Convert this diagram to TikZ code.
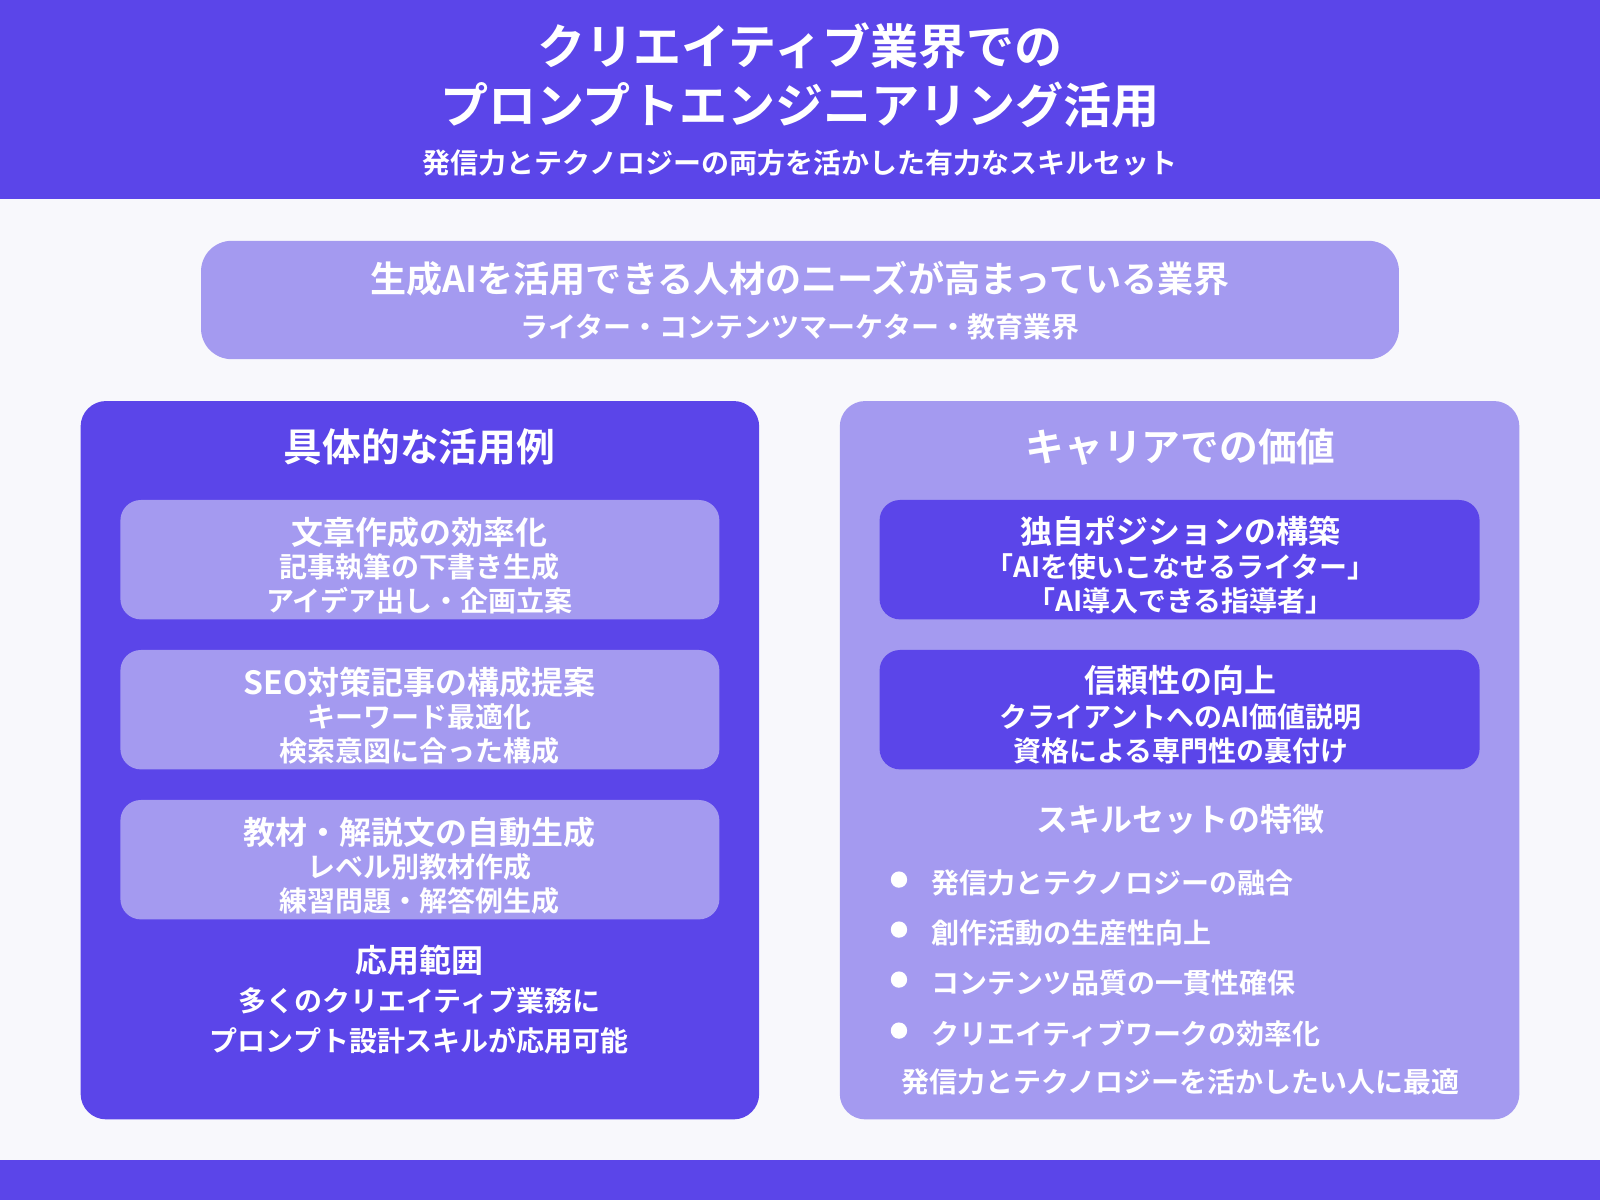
\documentclass[tikz,border=0pt]{standalone}
\usepackage{fontspec}
\setmainfont{Noto Sans CJK JP}[BoldFont={Noto Sans CJK JP Bold}]
\definecolor{dk}{HTML}{5B45E9}
\definecolor{lt}{HTML}{A49AF0}
\definecolor{bg}{HTML}{F8F8FC}
\newcommand{\fs}[1]{\fontsize{#1}{#1}\selectfont\bfseries}
\begin{document}
\begin{tikzpicture}[x=0.01cm,y=-0.01cm,
  txt/.style={text=white,inner sep=0pt,align=center,font=\fs{7.8pt}},
  ttl/.style={txt,font=\fs{10.05pt}}]
\useasboundingbox (0,0) rectangle (1568,1176);
\fill[bg] (0,0) rectangle (1568,1176);
\fill[dk] (0,0) rectangle (1568,195);
\fill[dk] (0,1137) rectangle (1568,1176);
\node[txt,font=\fs{13.4pt}] (t1) at (784,45) {クリエイティブ業界での};
\node[txt,font=\fs{13.4pt}] (t2) at (784,103) {プロンプトエンジニアリング活用};
\node[txt,font=\fs{7.8pt}] (t3) at (784,160) {発信力とテクノロジーの両方を活かした有力なスキルセット};
% top box
\fill[lt,rounded corners=0.3cm] (197,236) rectangle (1371,352);
\node[ttl] (a1) at (784,273) {生成AIを活用できる人材のニーズが高まっている業界};
\node[txt] (a2) at (784,320) {ライター・コンテンツマーケター・教育業界};
% panels
\fill[dk,rounded corners=0.25cm] (79,393) rectangle (744,1097);
\fill[lt,rounded corners=0.25cm] (823,393) rectangle (1489,1097);
\node[ttl,font=\fs{10.8pt}] (lt) at (411,438) {具体的な活用例};
\node[ttl,font=\fs{10.8pt}] (rt) at (1157,438) {キャリアでの価値};
\foreach \y/\a/\b/\c in {490/文章作成の効率化/記事執筆の下書き生成/アイデア出し・企画立案,
  637/SEO対策記事の構成提案/キーワード最適化/検索意図に合った構成,
  784/教材・解説文の自動生成/レベル別教材作成/練習問題・解答例生成}{
  \fill[lt,rounded corners=0.2cm] (118,\y) rectangle (705,\y+117);
  \node[txt,font=\fs{8.9pt}] at (411,\y+32) {\a};
  \node[txt] at (411,\y+66) {\b};
  \node[txt] at (411,\y+99) {\c};
}
\foreach \y/\a/\b/\c in {490/独自ポジションの構築/「AIを使いこなせるライター」/「AI導入できる指導者」,
  637/信頼性の向上/クライアントへのAI価値説明/資格による専門性の裏付け}{
  \fill[dk,rounded corners=0.2cm] (862,\y) rectangle (1450,\y+117);
  \node[txt,font=\fs{8.9pt}] at (1157,\y+30) {\a};
  \node[txt] at (1157,\y+66) {\b};
  \node[txt] at (1157,\y+99) {\c};
}
\node[txt,font=\fs{8.9pt}] (ap) at (411,941) {応用範囲};
\node[txt] (ap1) at (411,981) {多くのクリエイティブ業務に};
\node[txt] (ap2) at (411,1020) {プロンプト設計スキルが応用可能};
\node[txt,font=\fs{8.9pt}] (sk) at (1157,803) {スキルセットの特徴};
\foreach \y/\s in {862/発信力とテクノロジーの融合,911/創作活動の生産性向上,960/コンテンツ品質の一貫性確保,1010/クリエイティブワークの効率化}{
  \fill[white] (881,\y) circle (8);
  \node[txt,anchor=west] at (912,\y+3) {\s};
}
\node[txt] (fin) at (1157,1060) {発信力とテクノロジーを活かしたい人に最適};
\end{tikzpicture}
\end{document}
